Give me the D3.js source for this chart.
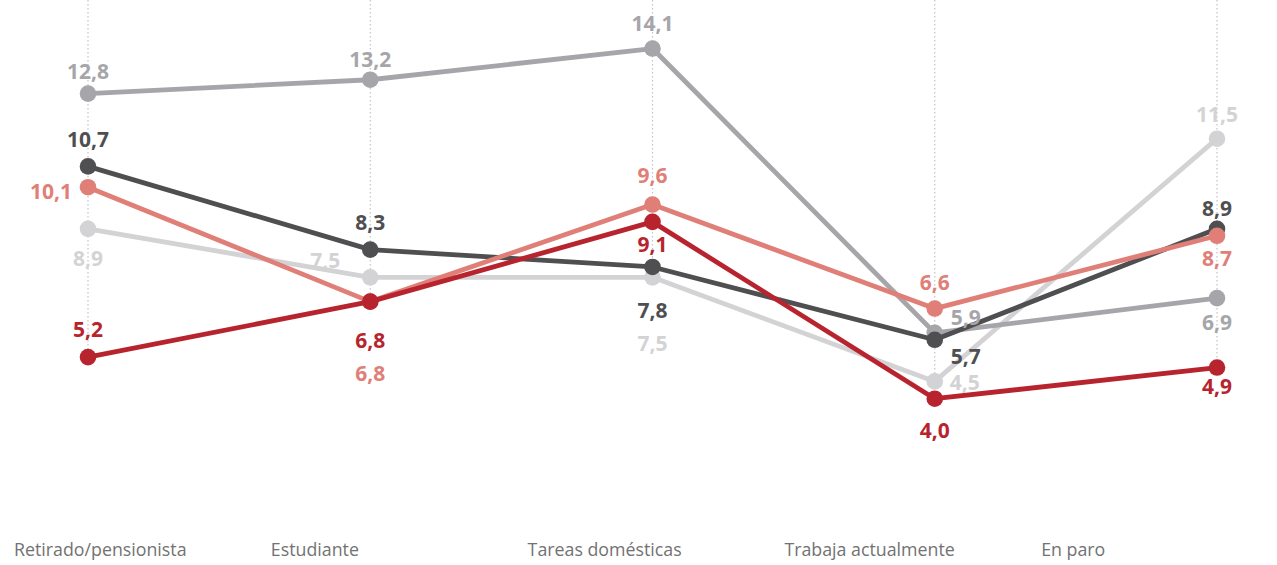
<!DOCTYPE html>
<html lang="es">
<head>
<meta charset="utf-8">
<script src="https://cdn.jsdelivr.net/npm/d3@7"></script>
<style>
  html, body { margin: 0; padding: 0; background: #fff; }
  svg { display: block; }
  .cat-label { font-family: "Open Sans", sans-serif; font-size: 17.8px; fill: #727272; }
  .val-label { font-family: "Open Sans", sans-serif; font-size: 21px; font-weight: 700; }
</style>
</head>
<body>
<svg id="chart" width="1277" height="565"></svg>
<script>
// Categories along the horizontal axis
const categories = ["Retirado/pensionista", "Estudiante", "Tareas domésticas", "Trabaja actualmente", "En paro"];

// One array of values per line
const valuesGray   = [12.8, 13.2, 14.1, 5.9, 6.9];
const valuesLight  = [8.9, 7.5, 7.5, 4.5, 11.5];
const valuesDark   = [10.7, 8.3, 7.8, 5.7, 8.9];
const valuesSalmon = [10.1, 6.8, 9.6, 6.6, 8.7];
const valuesRed    = [5.2, 6.8, 9.1, 4.0, 4.9];

// Label placement for each point: [dx, dy from the dot to the text centre, anchor]
const labelsGray   = [[0, -22, "middle"], [0, -20, "middle"], [0, -25, "middle"], [16, -15, "start"], [0, 24, "middle"]];
const labelsLight  = [[0, 30, "middle"], [-30, -17, "end"], [0, 66, "middle"], [15, 1, "start"], [0, -24, "middle"]];
const labelsDark   = [[0, -27, "middle"], [0, -27, "middle"], [0, 43, "middle"], [16, 17, "start"], [0, -20, "middle"]];
const labelsSalmon = [[-16, 4, "end"], [0, 72, "middle"], [0, -29, "middle"], [0, -26, "middle"], [0, 23, "middle"]];
const labelsRed    = [[0, -28, "middle"], [0, 39, "middle"], [0, 23, "middle"], [0, 32, "middle"], [0, 19, "middle"]];

// Drawing order: later series sit on top
const series = [
  { values: valuesLight,  labels: labelsLight,  color: "#d3d3d5" },
  { values: valuesGray,   labels: labelsGray,   color: "#a6a6aa" },
  { values: valuesDark,   labels: labelsDark,   color: "#4f4f52" },
  { values: valuesSalmon, labels: labelsSalmon, color: "#e07f77" },
  { values: valuesRed,    labels: labelsRed,    color: "#b7242e" }
];

const svg = d3.select("#chart");

const x = d3.scalePoint().domain(categories).range([88, 1217]);
const y = d3.scaleLinear().domain([0, 15.5]).range([537.4, 0]);
const labelBand = d3.scaleBand().domain(categories).range([14, 1298]);

// Dotted guide per category, from the top down to its lowest point
const lowest = categories.map((c, i) => d3.min(series, s => s.values[i]));
svg.append("g")
  .selectAll("line")
  .data(categories)
  .join("line")
  .attr("x1", d => x(d)).attr("x2", d => x(d))
  .attr("y1", 0)
  .attr("y2", (d, i) => y(lowest[i]))
  .attr("stroke", "#c4c4c4")
  .attr("stroke-width", 1.2)
  .attr("stroke-dasharray", "1.5,2.5");

const line = d3.line()
  .x((d, i) => x(categories[i]))
  .y(d => y(d));

const groups = svg.append("g")
  .selectAll("g")
  .data(series)
  .join("g");

groups.append("path")
  .attr("d", s => line(s.values))
  .attr("fill", "none")
  .attr("stroke", s => s.color)
  .attr("stroke-width", 4.8)
  .attr("stroke-linejoin", "round");

groups.selectAll("circle")
  .data(s => s.values.map((v, i) => ({ v, i, color: s.color })))
  .join("circle")
  .attr("cx", d => x(categories[d.i]))
  .attr("cy", d => y(d.v))
  .attr("r", 8.3)
  .attr("fill", d => d.color);

// Value labels
const fmt = v => d3.format(".1f")(v).replace(".", ",");
svg.append("g")
  .selectAll("g")
  .data(series)
  .join("g")
  .selectAll("text")
  .data(s => s.values.map((v, i) => ({ v, i, color: s.color, pos: s.labels[i] })))
  .join("text")
  .attr("class", "val-label")
  .attr("x", d => x(categories[d.i]) + d.pos[0])
  .attr("y", d => y(d.v) + d.pos[1])
  .attr("dy", "0.36em")
  .attr("text-anchor", d => d.pos[2])
  .attr("fill", d => d.color)
  .text(d => fmt(d.v));

// Category labels along the bottom
svg.append("g")
  .selectAll("text")
  .data(categories)
  .join("text")
  .attr("class", "cat-label")
  .attr("x", d => labelBand(d))
  .attr("y", 556)
  .text(d => d);
</script>
</body>
</html>
